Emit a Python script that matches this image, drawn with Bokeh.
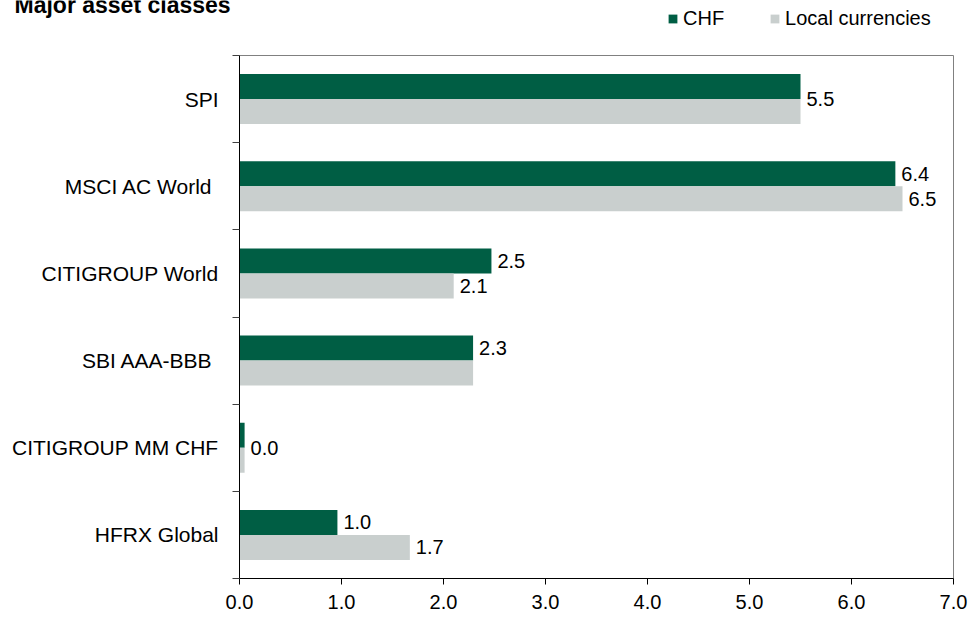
from bokeh.plotting import figure
from bokeh.layouts import column
from bokeh.models import (ColumnDataSource, Range1d, FixedTicker, Label, Legend, LegendItem)
from bokeh.core.properties import value
from bokeh.embed import file_html
from bokeh.resources import INLINE

# ---- data ----
title_text = "Major asset classes"
categories = ["SPI", "MSCI AC World ", "CITIGROUP World", "SBI AAA-BBB ", "CITIGROUP MM CHF", "HFRX Global"]
chf = [5.50, 6.43, 2.47, 2.29, 0.05, 0.96]
local = [5.50, 6.50, 2.10, 2.29, 0.05, 1.67]
chf_labels = ["5.5", "6.4", "2.5", "2.3", "0.0", "1.0"]
local_labels = ["", "6.5", "2.1", "", "", "1.7"]
series_names = ["CHF", "Local currencies"]
x_ticks = [0, 1, 2, 3, 4, 5, 6, 7]

# style: where a lone CHF label sits (0 = on CHF bar, 1 = between both bars)
chf_label_centered = [1, 0, 0, 0, 1, 0]

GREEN = "#005e44"
GREY = "#c9cfce"
FONT = "Liberation Sans"
BAR_H = 0.287
W = 969
TOP_H = 54

n = len(categories)
centers = [i + 0.5 for i in range(n)]
src = ColumnDataSource(dict(
    cat=categories,
    chf=chf,
    local=local,
    y_chf=[c - BAR_H / 2 for c in centers],
    y_local=[c + BAR_H / 2 for c in centers],
    chf_lab=chf_labels,
    local_lab=local_labels,
    y_chf_lab=[c - BAR_H / 2 * (1 - m) for c, m in zip(centers, chf_label_centered)],
))

# ---- header (title + legend) ----
head = figure(width=W, height=TOP_H, output_backend="svg", toolbar_location=None,
              x_range=Range1d(0, W), y_range=Range1d(TOP_H, 0),
              x_axis_type=None, y_axis_type=None,
              min_border_left=0, min_border_right=0, min_border_top=0, min_border_bottom=0)
head.frame_align = False
head.outline_line_color = None
head.xgrid.visible = False
head.ygrid.visible = False
head.background_fill_color = "white"
head.border_fill_color = "white"

head.add_layout(Label(x=14, y=4, text=title_text, text_font=FONT, text_font_size="23px",
                      text_font_style="bold", text_color="black", text_baseline="alphabetic"))

# legend swatches: zero-size bars that only carry the series styling
d_chf = head.hbar(y="y_chf", left=0, right=0, height=0, source=src,
                  fill_color=GREEN, line_color=None)
d_loc = head.hbar(y="y_local", left=0, right=0, height=0, source=src,
                  fill_color=GREY, line_color=None)
legend = Legend(items=[LegendItem(label=series_names[0], renderers=[d_chf], index=0),
                       LegendItem(label=series_names[1], renderers=[d_loc], index=0)],
                location=(667, 24), orientation="horizontal",
                glyph_width=11, glyph_height=11, label_standoff=5, spacing=45,
                padding=0, margin=0, border_line_color=None, background_fill_alpha=0,
                label_text_font=FONT, label_text_font_size="20px", label_text_color="black",
                label_height=11)
head.add_layout(legend, "center")

# ---- main chart ----
p = figure(width=W, height=618 - TOP_H, output_backend="svg", toolbar_location=None,
           x_range=Range1d(0, 7), y_range=Range1d(n, 0),
           min_border_left=239, min_border_right=16, min_border_top=1, min_border_bottom=40)
p.frame_align = False
p.background_fill_color = "white"
p.border_fill_color = "white"
p.outline_line_color = "#808080"
p.outline_line_width = 1
p.xgrid.visible = False
p.ygrid.visible = False

p.hbar(y="y_chf", left=0, right="chf", height=BAR_H, source=src,
       fill_color=GREEN, line_color=None)
p.hbar(y="y_local", left=0, right="local", height=BAR_H, source=src,
       fill_color=GREY, line_color=None)

p.text(x="chf", y="y_chf_lab", text="chf_lab", source=src, x_offset=6,
       text_baseline="middle", text_align="left", text_font=value(FONT),
       text_font_size="20px", text_color="black")
p.text(x="local", y="y_local", text="local_lab", source=src, x_offset=6,
       text_baseline="middle", text_align="left", text_font=value(FONT),
       text_font_size="20px", text_color="black")

# x axis
xa = p.xaxis[0]
xa.ticker = FixedTicker(ticks=x_ticks)
xa.major_label_overrides = {t: f"{t:.1f}" for t in x_ticks}
xa.axis_line_color = "black"
xa.major_tick_line_color = "black"
xa.major_tick_out = 6
xa.major_tick_in = 0
xa.minor_tick_line_color = None
xa.major_label_standoff = 10
xa.major_label_text_font = FONT
xa.major_label_text_font_size = "20px"
xa.major_label_text_color = "black"

# y axis (category names at centres, ticks at boundaries)
ya = p.yaxis[0]
ya.ticker = FixedTicker(ticks=centers, minor_ticks=list(range(n + 1)))
ya.major_label_overrides = {c: name for c, name in zip(centers, categories)}
ya.axis_line_color = "black"
ya.major_tick_line_color = None
ya.major_tick_out = 0
ya.major_tick_in = 0
ya.minor_tick_line_color = "#404040"
ya.minor_tick_out = 7
ya.minor_tick_in = 0
ya.major_label_standoff = 14
ya.major_label_text_font = FONT
ya.major_label_text_font_size = "21px"
ya.major_label_text_color = "black"

layout = column(head, p, spacing=0)
open("out.html", "w").write(file_html(layout, INLINE))
